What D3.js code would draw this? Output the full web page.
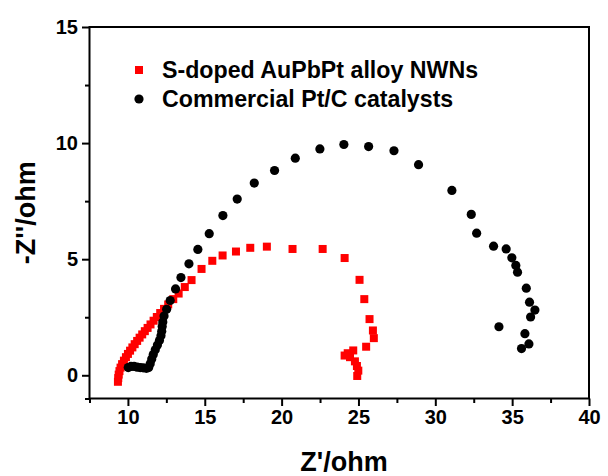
<!DOCTYPE html>
<html>
<head>
<meta charset="utf-8">
<script src="https://cdn.jsdelivr.net/npm/d3@7/dist/d3.min.js"></script>
<style>
  html, body { margin: 0; padding: 0; background: #fff; }
  svg { display: block; }
  text { font-family: "Liberation Sans", Arial, sans-serif; font-weight: bold; fill: #000; }
</style>
</head>
<body>
<svg id="chart" width="608" height="476"></svg>
<script>
// Nyquist plot data: [Z' (ohm), -Z'' (ohm)]
const seriesNames = ["S-doped AuPbPt alloy NWNs", "Commercial Pt/C catalysts"];

const sDopedAuPbPt = [
  [9.35,-0.28],[9.37,-0.12],[9.4,0.03],[9.45,0.18],[9.52,0.33],[9.62,0.48],[9.74,0.63],
  [9.87,0.78],[10.0,0.92],[10.14,1.06],[10.29,1.2],[10.44,1.34],[10.6,1.48],[10.76,1.62],
  [10.93,1.76],[11.1,1.9],[11.28,2.04],[11.47,2.19],[11.67,2.35],[11.88,2.51],[12.1,2.68],
  [12.35,2.86],[12.62,3.05],[12.95,3.28],[13.3,3.52],[13.7,3.8],[14.14,4.1],[14.79,4.58],
  [15.49,4.93],[16.16,5.16],[17.03,5.33],[17.96,5.49],[19.04,5.54],[20.71,5.44],[22.67,5.44],
  [24.1,5.05],[25.07,4.11],[25.38,3.28],[25.72,2.42],[25.94,1.93],[26.0,1.6],[25.5,1.23],
  [24.66,1.07],[24.3,0.95],[24.1,0.85],[24.45,0.78],[24.77,0.6],[24.9,0.4],[24.99,0.2],[24.92,-0.03]
];

const commercialPtC = [
  [10.02,0.33],[10.2,0.38],[10.4,0.38],[10.6,0.35],[10.8,0.33],[11.0,0.32],[11.2,0.3],
  [11.35,0.33],[11.45,0.5],[11.55,0.7],[11.65,0.9],[11.78,1.1],[11.92,1.3],[12.05,1.5],
  [12.15,1.7],[12.2,1.9],[12.23,2.1],[12.27,2.3],[12.35,2.55],[12.52,2.84],[12.75,3.22],
  [13.1,3.72],[13.45,4.21],[13.97,4.8],[14.55,5.42],[15.29,6.1],[16.18,6.88],[17.11,7.59],
  [18.22,8.28],[19.54,8.82],[20.89,9.35],[22.49,9.75],[24.05,9.94],[25.66,9.85],[27.31,9.67],
  [28.91,9.07],[31.08,7.96],[32.34,6.93],[32.69,6.12],[33.79,5.56],[34.61,5.44],[34.98,5.06],
  [35.24,4.73],[35.35,4.44],[35.92,3.75],[36.13,3.15],[36.48,2.81],[36.2,2.51],[35.83,1.79],
  [36.09,1.35],[35.61,1.15],[34.14,2.09]
];

const xMajorTicks = [10, 15, 20, 25, 30, 35, 40];
const xMinorTicks = [7.5, 12.5, 17.5, 22.5, 27.5, 32.5, 37.5];
const yMajorTicks = [0, 5, 10, 15];
const yMinorTicks = [-1, 2.5, 7.5, 12.5];

const xTitle = "Z'/ohm";
const yTitle = "-Z''/ohm";

const svg = d3.select("#chart");
const plotLeft = 89.5, plotRight = 589, plotTop = 27, plotBottom = 398.5;

const x = d3.scaleLinear().domain([7.5, 40]).range([plotLeft, plotRight]);
const y = d3.scaleLinear().domain([-1, 15]).range([plotBottom, plotTop]);

// minor ticks
svg.append("g").attr("transform", `translate(0,${plotBottom})`)
  .call(d3.axisBottom(x).tickValues(xMinorTicks).tickSize(4.5).tickFormat(""))
  .call(g => g.select(".domain").remove())
  .call(g => g.selectAll("line").attr("stroke", "#000").attr("stroke-width", 2));
svg.append("g").attr("transform", `translate(${plotLeft},0)`)
  .call(d3.axisLeft(y).tickValues(yMinorTicks).tickSize(4.5).tickFormat(""))
  .call(g => g.select(".domain").remove())
  .call(g => g.selectAll("line").attr("stroke", "#000").attr("stroke-width", 2));

// major ticks + labels
svg.append("g").attr("transform", `translate(0,${plotBottom})`)
  .call(d3.axisBottom(x).tickValues(xMajorTicks).tickSize(7.5).tickPadding(4).tickFormat(d3.format("d")))
  .call(g => g.select(".domain").remove())
  .call(g => g.selectAll("line").attr("stroke", "#000").attr("stroke-width", 2))
  .call(g => g.selectAll("text").attr("font-size", 20).attr("font-family", null));
svg.append("g").attr("transform", `translate(${plotLeft},0)`)
  .call(d3.axisLeft(y).tickValues(yMajorTicks).tickSize(7.5).tickPadding(4).tickFormat(d3.format("d")))
  .call(g => g.select(".domain").remove())
  .call(g => g.selectAll("line").attr("stroke", "#000").attr("stroke-width", 2))
  .call(g => g.selectAll("text").attr("font-size", 20).attr("font-family", null));

// frame
svg.append("rect")
  .attr("x", plotLeft).attr("y", plotTop)
  .attr("width", plotRight - plotLeft).attr("height", plotBottom - plotTop)
  .attr("fill", "none").attr("stroke", "#000").attr("stroke-width", 2);

// series
const sq = 8;
svg.append("g").selectAll("rect").data(sDopedAuPbPt).join("rect")
  .attr("x", d => x(d[0]) - sq / 2).attr("y", d => y(d[1]) - sq / 2)
  .attr("width", sq).attr("height", sq).attr("fill", "#ff0000");

svg.append("g").selectAll("circle").data(commercialPtC).join("circle")
  .attr("cx", d => x(d[0])).attr("cy", d => y(d[1])).attr("r", 4.6).attr("fill", "#000");

// legend
const legend = svg.append("g");
legend.append("rect").attr("x", 139 - sq / 2).attr("y", 70 - sq / 2)
  .attr("width", sq).attr("height", sq).attr("fill", "#ff0000");
legend.append("text").attr("x", 162).attr("y", 77.5).attr("font-size", 23.2).text(seriesNames[0]);
legend.append("circle").attr("cx", 139).attr("cy", 99).attr("r", 4.6).attr("fill", "#000");
legend.append("text").attr("x", 162).attr("y", 106.5).attr("font-size", 23.2).text(seriesNames[1]);

// axis titles
svg.append("text").attr("x", 344).attr("y", 471)
  .attr("text-anchor", "middle").attr("font-size", 27).text(xTitle);
svg.append("text").attr("transform", `translate(35,${(plotTop + plotBottom) / 2}) rotate(-90)`)
  .attr("text-anchor", "middle").attr("font-size", 27).text(yTitle);
</script>
</body>
</html>
